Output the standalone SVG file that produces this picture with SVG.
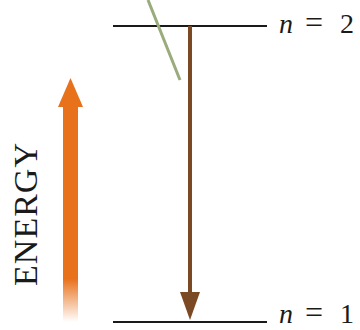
<svg xmlns="http://www.w3.org/2000/svg" width="360" height="330" viewBox="0 0 360 330">
<defs>
<style>
.lvl{stroke:#1a1a1a;stroke-width:2.2}
.lbl{font-family:"Liberation Serif","DejaVu Serif",serif;font-size:28px;fill:#1a1a1a}
.it{font-style:italic}
</style>
<linearGradient id="fade" x1="0" y1="0" x2="0" y2="1">
<stop offset="0" stop-color="#e8711c"/>
<stop offset="0.8" stop-color="#e8711c"/>
<stop offset="1" stop-color="#e8711c" stop-opacity="0"/>
</linearGradient>
</defs>
<g id="level2">
<line class="lvl" x1="113" y1="26" x2="267" y2="26"/>
<text class="lbl" y="33"><tspan class="it" x="279">n</tspan><tspan x="305" font-size="32">=</tspan><tspan x="340">2</tspan></text>
</g>
<g id="level1">
<line class="lvl" x1="113" y1="322" x2="267" y2="322"/>
<text class="lbl" y="323"><tspan class="it" x="279">n</tspan><tspan x="305" font-size="32">=</tspan><tspan x="340">1</tspan></text>
</g>
<g id="energy">
<path d="M63 106 H78 V322 H63 Z" fill="url(#fade)"/>
<path d="M70.5 78 L83 107 L58 107 Z" fill="#e8711c"/>
<text transform="translate(37,214) rotate(-90)" text-anchor="middle" font-family="'Liberation Serif','DejaVu Serif',serif" font-size="34" letter-spacing="1" fill="#1a1a1a">ENERGY</text>
</g>
<g id="connectors">
<line x1="148" y1="0" x2="180" y2="80" stroke="#9aab7c" stroke-width="3"/>
<line x1="190" y1="26" x2="190" y2="294" stroke="#7b4a24" stroke-width="4"/>
<path d="M180 292 L200 292 L190 320 Z" fill="#7b4a24"/>
</g>
</svg>
